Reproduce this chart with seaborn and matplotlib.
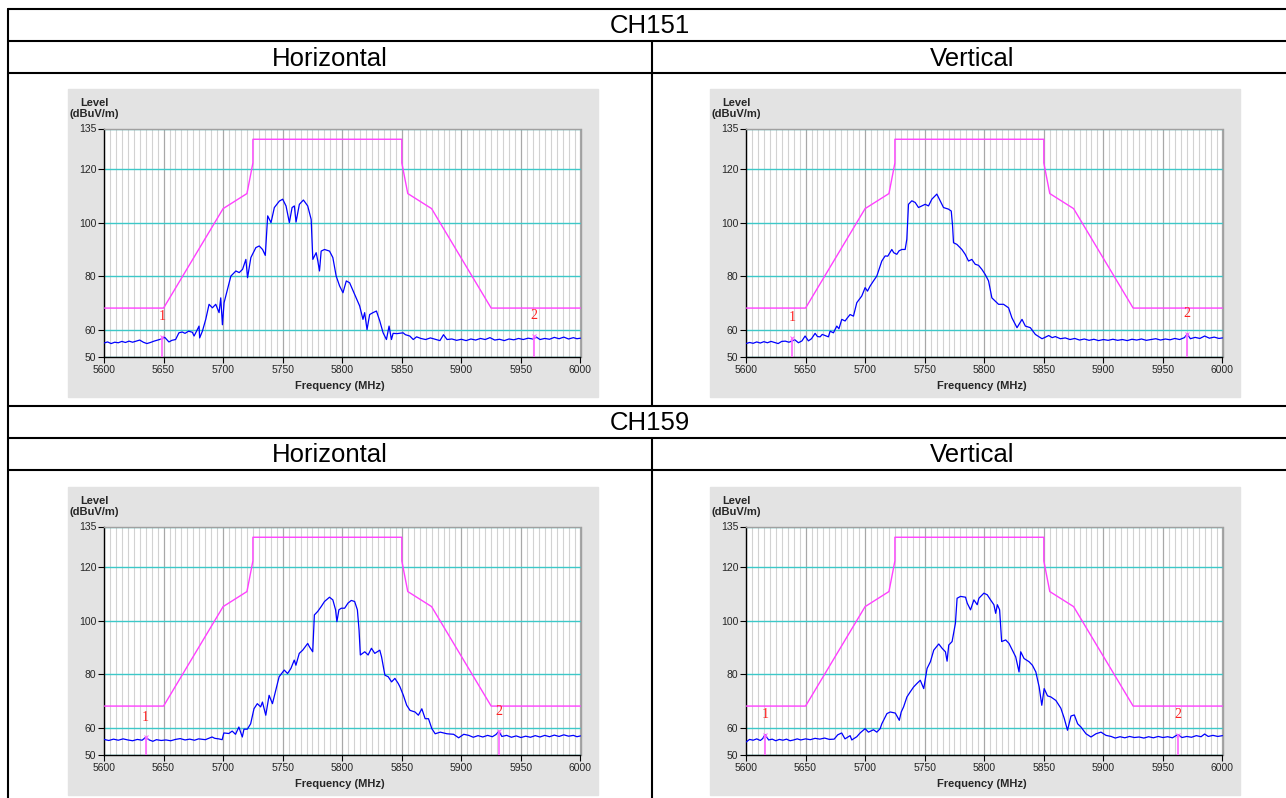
import matplotlib
matplotlib.use('Agg')
import matplotlib.pyplot as plt
from matplotlib.lines import Line2D
from matplotlib.patches import Rectangle
import numpy as np
import seaborn as sns

W, H = 1286, 798

# table headers
channels = ['CH151', 'CH159']
polarizations = ['Horizontal', 'Vertical']

# limit mask (dBuV/m)
mask_freq = [5600, 5650, 5700, 5720, 5725, 5725, 5850, 5850, 5855, 5875, 5925, 6000]
mask_level = [68.2, 68.2, 105.2, 110.8, 122.2, 131.0, 131.0, 122.2, 110.8, 105.2, 68.2, 68.2]

x_ticks = [5600, 5650, 5700, 5750, 5800, 5850, 5900, 5950, 6000]
y_ticks = [50, 60, 80, 100, 120, 135]

# measured traces (MHz, dBuV/m)
h151_trace = [
    (5600, 55.2), (5603, 55.6), (5606, 55.0), (5609, 55.5), (5612, 55.3), (5615, 55.8), (5618, 55.4), (5621, 55.9), (5624, 55.5), (5627, 55.9),
    (5630, 56.3), (5633, 55.5), (5636, 55.0), (5639, 55.4), (5642, 55.9), (5645, 56.3), (5648.9, 56.8), (5651, 57.3), (5654.5, 55.6), (5657, 56.2),
    (5660.1, 56.5), (5662.9, 59.0), (5665.7, 59.3), (5668, 58.8), (5671, 59.6), (5674.2, 59.2), (5675.6, 57.8), (5677, 59.0), (5679.8, 61.5), (5680.3, 57.1),
    (5682.6, 59.6), (5685.4, 64.0), (5688.2, 69.6), (5691, 68.3), (5693.8, 69.6), (5696.6, 66.5), (5698, 72.0), (5699.4, 62.0), (5700.8, 70.2), (5703.7, 75.2),
    (5706.5, 80.1), (5710.7, 82.0), (5713.5, 81.4), (5716.3, 82.6), (5719.1, 86.3), (5720.5, 79.5), (5723.3, 87.0), (5727.5, 90.7), (5730.3, 91.3), (5733.1, 90.0),
    (5735.4, 87.8), (5737.4, 102.5), (5740.2, 100.0), (5743, 105.6), (5747.2, 108.0), (5750, 108.7), (5752.8, 106.2), (5755.6, 100.0), (5757.9, 105.6), (5759.8, 106.2),
    (5761.2, 100.2), (5764, 106.8), (5767.4, 108.4), (5771, 106.2), (5773.9, 101.2), (5775.3, 86.3), (5778.1, 88.8), (5779.5, 85.7), (5780.9, 82.0), (5782.3, 89.4),
    (5785.1, 90.0), (5789.3, 89.4), (5792.1, 87.0), (5794.9, 80.1), (5797.8, 76.4), (5800.6, 73.9), (5803.4, 78.3), (5806.2, 77.6), (5810.4, 73.3), (5814.6, 69.0),
    (5817.4, 64.0), (5818.8, 66.5), (5820.8, 60.2), (5823, 65.8), (5825.8, 66.5), (5828.7, 67.1), (5831.5, 63.4), (5834.3, 59.0), (5837.1, 56.5), (5839.3, 61.5),
    (5841.3, 56.5), (5842.7, 58.8), (5846, 58.7), (5851.1, 59.0), (5853, 58.3), (5856.7, 57.8), (5859.6, 56.5), (5862.4, 57.5), (5866, 56.9), (5870, 56.5),
    (5874, 57.1), (5878, 56.6), (5882, 56.1), (5885, 58.3), (5888, 56.5), (5892, 56.7), (5896, 56.2), (5900, 56.6), (5904, 56.1), (5908, 56.7),
    (5912, 56.3), (5916, 56.9), (5920, 56.5), (5924, 57.2), (5928, 56.3), (5932, 56.6), (5936, 56.1), (5940, 56.7), (5944, 56.4), (5948, 56.9),
    (5952, 56.5), (5956, 57.0), (5960, 56.7), (5963, 57.4), (5966, 56.5), (5970, 56.9), (5974, 56.6), (5978, 57.3), (5982, 56.8), (5986, 57.4),
    (5990, 56.7), (5994, 57.2), (5997, 56.8), (6000, 57.0),
]

v151_trace = [
    (5600, 55.0), (5603, 55.4), (5606, 55.1), (5609, 55.6), (5612, 55.2), (5615, 55.7), (5618, 55.3), (5621, 55.8), (5624, 55.4), (5627, 55.0),
    (5630, 55.8), (5633, 55.9), (5636, 55.5), (5638.4, 55.9), (5641, 56.4), (5644, 55.3), (5647, 56.0), (5649.6, 57.8), (5652.4, 56.0), (5655, 56.8),
    (5658, 58.8), (5660, 57.6), (5662.2, 57.5), (5664, 58.4), (5666.4, 58.0), (5669.2, 57.5), (5670.6, 59.6), (5673.4, 59.0), (5676.2, 61.5), (5678, 60.5),
    (5680.4, 64.0), (5683.2, 63.4), (5685, 64.5), (5687.4, 65.8), (5690.2, 65.2), (5693, 70.2), (5697.2, 72.7), (5700, 75.8), (5702, 74.5), (5704.2, 76.4),
    (5707, 78.3), (5709.8, 80.1), (5714, 85.7), (5716.8, 87.6), (5719, 87.5), (5722.4, 90.0), (5724, 88.8), (5726.6, 88.2), (5728.5, 89.5), (5730.8, 90.0),
    (5733.6, 90.0), (5735, 93.8), (5736.4, 106.8), (5739.2, 108.1), (5742, 107.5), (5744.8, 105.6), (5747.6, 106.2), (5750.4, 106.8), (5753.2, 106.2), (5756, 108.7),
    (5760.2, 110.6), (5763, 108.1), (5765.8, 105.6), (5770, 105.0), (5772.3, 104.3), (5773.4, 98.8), (5774.2, 92.5), (5777, 91.9), (5781.2, 90.0), (5784, 88.2),
    (5786.8, 85.7), (5789.6, 86.3), (5792.4, 84.5), (5795.2, 84.1), (5798, 82.6), (5800.8, 80.7), (5803.6, 78.3), (5806.4, 72.0), (5809.2, 70.8), (5812, 69.6),
    (5816.2, 69.6), (5820.4, 68.3), (5823.2, 64.6), (5827.5, 60.9), (5831.7, 64.0), (5834.5, 61.5), (5838.7, 60.9), (5842.9, 58.4), (5848.5, 56.8), (5851, 57.3),
    (5854.1, 58.0), (5857, 57.2), (5859.7, 57.6), (5863.9, 56.8), (5868, 57.1), (5872, 56.5), (5876, 56.9), (5880, 56.3), (5884, 56.7), (5888, 56.2),
    (5892, 56.6), (5896, 56.1), (5900, 56.5), (5904, 56.2), (5908, 56.6), (5912, 56.2), (5916, 56.5), (5920, 56.1), (5924, 56.6), (5928, 56.3),
    (5932, 56.7), (5936, 56.2), (5940, 56.5), (5944, 56.8), (5948, 56.3), (5952, 56.7), (5956, 56.4), (5960, 56.9), (5964, 56.5), (5968, 57.2),
    (5970.5, 58.6), (5973, 56.8), (5977, 57.3), (5981, 56.9), (5985, 57.8), (5989, 57.0), (5993, 57.4), (5997, 56.9), (6000, 57.1),
]

h159_trace = [
    (5600, 55.8), (5604, 55.4), (5608, 55.9), (5612, 55.5), (5616, 56.0), (5620, 55.6), (5624, 55.3), (5628, 55.8), (5632, 55.5), (5635, 56.6),
    (5638, 55.6), (5641, 55.1), (5644, 55.7), (5648, 55.4), (5652, 55.6), (5656, 55.3), (5660, 55.8), (5664, 56.1), (5668, 55.6), (5672, 55.9),
    (5676, 55.5), (5679.4, 56.0), (5685.1, 55.7), (5690.7, 56.7), (5693, 56.2), (5696.3, 56.0), (5699.2, 55.7), (5700.6, 58.2), (5704.8, 58.0), (5707.6, 58.9),
    (5710.4, 57.7), (5713.2, 60.4), (5716.1, 56.7), (5717.5, 59.6), (5720.3, 59.6), (5723.1, 61.6), (5725.9, 67.2), (5728.7, 69.1), (5731.5, 67.9), (5733, 69.7),
    (5735.8, 64.8), (5738.6, 72.2), (5741.4, 69.1), (5744.2, 74.1), (5747, 79.1), (5751.3, 81.6), (5754.1, 80.3), (5756.9, 82.2), (5759.7, 85.3), (5761.1, 83.4),
    (5763.9, 87.8), (5766.8, 89.0), (5771, 91.5), (5772.4, 90.3), (5775.2, 88.4), (5776.6, 102.1), (5779.4, 103.4), (5782.3, 105.2), (5785.1, 107.1), (5789.3, 108.7),
    (5792.1, 107.7), (5794.4, 104.0), (5795.5, 99.6), (5797.2, 104.0), (5799.2, 104.6), (5802, 104.6), (5804.8, 106.5), (5807.6, 107.5), (5810.4, 107.1), (5812.7, 104.0),
    (5814.1, 96.5), (5815.2, 87.2), (5818.9, 88.4), (5821.7, 87.2), (5824.5, 89.7), (5827.3, 87.8), (5831.5, 89.0), (5833, 86.5), (5835.8, 79.7), (5838.6, 79.1),
    (5841.4, 77.2), (5844.2, 78.5), (5847, 76.6), (5848.5, 75.3), (5851.3, 72.2), (5854.1, 68.5), (5856.9, 66.6), (5861.1, 66.0), (5863.9, 64.8), (5866.8, 67.2),
    (5869.6, 63.5), (5872.4, 63.5), (5875.2, 59.8), (5878, 57.9), (5882.3, 58.5), (5887.9, 57.9), (5893.5, 57.7), (5897.7, 56.4), (5902, 57.7), (5906.2, 57.3),
    (5910, 56.6), (5914, 57.2), (5918, 56.7), (5922, 57.3), (5926, 56.8), (5929, 57.6), (5931.5, 58.8), (5934, 56.9), (5938, 57.3), (5942, 56.6),
    (5946, 57.1), (5950, 56.5), (5954, 57.0), (5958, 56.6), (5962, 57.2), (5966, 56.7), (5970, 57.3), (5974, 56.8), (5978, 57.4), (5982, 56.9),
    (5986, 57.5), (5990, 57.0), (5994, 57.3), (5997, 56.8), (6000, 57.1),
]

v159_trace = [
    (5600, 54.8), (5603, 55.8), (5606, 55.5), (5609, 56.0), (5612, 55.4), (5614, 56.1), (5616, 57.6), (5619, 55.6), (5622, 55.9), (5625, 55.3),
    (5628, 55.8), (5631, 55.5), (5634, 55.9), (5637, 55.3), (5640, 55.6), (5643, 56.0), (5646, 55.6), (5650, 56.0), (5654, 55.7), (5658, 56.2),
    (5662, 55.9), (5666, 56.3), (5670, 55.8), (5674, 55.9), (5677, 57.5), (5680.3, 58.2), (5683.1, 56.0), (5687.4, 57.2), (5688.8, 55.6), (5693, 56.8),
    (5695.8, 58.2), (5700, 59.8), (5702.8, 58.5), (5707, 59.4), (5709.8, 58.5), (5712.6, 59.8), (5714, 61.6), (5718.3, 65.4), (5721.1, 66.0), (5725.3, 65.6),
    (5728.7, 62.9), (5730.3, 66.0), (5732.3, 67.9), (5735.1, 71.6), (5737.9, 73.5), (5740.7, 75.3), (5743.5, 76.6), (5746.3, 77.8), (5749.2, 74.7), (5752, 82.2),
    (5754.8, 84.7), (5757.6, 89.0), (5761.8, 91.3), (5764.6, 89.7), (5767.4, 88.4), (5768.8, 84.9), (5770.2, 90.9), (5773, 92.2), (5775.8, 99.0), (5777.2, 108.3),
    (5780.1, 109.0), (5784.3, 108.7), (5785.7, 106.5), (5788.5, 104.0), (5791.3, 107.7), (5794.1, 105.9), (5795.5, 108.3), (5799.7, 110.2), (5802.5, 109.6), (5805.3, 107.7),
    (5808.1, 105.9), (5809.6, 102.7), (5811, 105.9), (5812.9, 104.0), (5814.6, 92.2), (5818, 92.8), (5820.8, 91.5), (5823.6, 89.0), (5826.4, 86.5), (5829.2, 80.9),
    (5830.6, 88.4), (5833.4, 85.9), (5837.6, 84.7), (5840.4, 83.4), (5843.3, 80.9), (5846.1, 75.3), (5848.3, 68.5), (5850.3, 74.7), (5853.1, 72.0), (5855.9, 71.6),
    (5860.1, 70.3), (5864.3, 67.4), (5867.1, 63.7), (5869.9, 59.2), (5872.8, 64.5), (5875.6, 64.9), (5878.4, 61.6), (5881.2, 60.4), (5885.4, 57.9), (5889.6, 56.7),
    (5893.8, 57.9), (5898, 58.5), (5902.2, 57.3), (5906.5, 56.9), (5910, 56.3), (5914, 56.8), (5918, 56.4), (5922, 56.9), (5926, 56.5), (5930, 56.7),
    (5934, 56.3), (5938, 56.8), (5942, 56.4), (5946, 56.9), (5950, 56.5), (5954, 56.8), (5958, 56.4), (5962.5, 57.6), (5966, 56.5), (5970, 56.9),
    (5974, 56.6), (5978, 57.2), (5982, 56.8), (5985, 57.8), (5988, 56.9), (5992, 57.3), (5996, 56.9), (6000, 57.2),
]

# marker points (MHz, dBuV/m)
h151_markers = [(5648.5, 57.5), (5961.0, 57.8)]
v151_markers = [(5639.0, 57.2), (5970.5, 58.6)]
h159_markers = [(5635.0, 56.6), (5931.5, 58.8)]
v159_markers = [(5616.0, 57.6), (5962.5, 57.6)]

sns.set_style('white')
plt.rcParams['font.family'] = ['Liberation Sans', 'DejaVu Sans']

fig = plt.figure(figsize=(W / 100, H / 100), dpi=100)


def fx(x):
    return x / W


def fy(y):
    return 1 - y / H


# table grid
line_kw = dict(color='black', lw=1.5, transform=fig.transFigure, zorder=5)
for y in [9, 41, 73, 406, 438, 470]:
    fig.add_artist(Line2D([fx(8), 1], [fy(y), fy(y)], **line_kw))
fig.add_artist(Line2D([fx(8), fx(8)], [fy(9), 0], **line_kw))
fig.add_artist(Line2D([fx(652), fx(652)], [fy(41), fy(406)], **line_kw))
fig.add_artist(Line2D([fx(652), fx(652)], [fy(438), 0], **line_kw))

head_kw = dict(ha='center', va='center', fontsize=18.5, color='black')
for row, ch in enumerate(channels):
    y0 = 9 + row * 397
    fig.text(fx(650), fy(y0 + 17), ch, **head_kw)
    fig.text(fx(330), fy(y0 + 49.5), polarizations[0], **head_kw)
    fig.text(fx(972), fy(y0 + 49.5), polarizations[1], **head_kw)

panels = [
    (68, 89, h151_trace, h151_markers),
    (710, 89, v151_trace, v151_markers),
    (68, 487, h159_trace, h159_markers),
    (710, 487, v159_trace, v159_markers),
]

for bx, by, trace, markers in panels:
    fig.add_artist(Rectangle((fx(bx), fy(by + 308)), 530 / W, 308 / H,
                             transform=fig.transFigure, color='#e3e3e3', zorder=-1))
    ax = fig.add_axes([fx(bx + 36), fy(by + 39.5 + 228.5), 476.5 / W, 228.5 / H])
    ax.set_facecolor('white')

    freq = [p[0] for p in trace]
    level = [p[1] for p in trace]

    sns.lineplot(x=mask_freq, y=mask_level, ax=ax, color='#ff40ff', lw=1.0,
                 estimator=None, sort=False, zorder=3)
    sns.lineplot(x=freq, y=level, ax=ax, color='#0000ff', lw=0.9,
                 estimator=None, sort=False, zorder=4)

    for i, (mf, ml) in enumerate(markers):
        ax.plot([mf, mf], [50, ml], color='#ff66ff', lw=1.2, zorder=5)
        ax.plot(mf, ml, marker='x', ms=3.5, mew=0.7, color='#ff66ff', zorder=5)
        ax.text(mf, ml + 7.5, str(i + 1), color='#ff2020', fontsize=10,
                family='Liberation Serif', ha='center', va='center', zorder=6)

    ax.set_xlim(5600, 6000)
    ax.set_ylim(50, 135)
    ax.set_xticks(x_ticks)
    ax.set_yticks(y_ticks)
    ax.set_xticks(np.arange(5600, 6001, 5), minor=True)
    ax.grid(which='minor', axis='x', color='#d2d2d2', lw=0.8)
    ax.grid(which='major', axis='x', color='#a8a8a8', lw=0.9)
    ax.grid(which='major', axis='y', color='#3cc8c8', lw=1.0)
    ax.set_axisbelow(True)
    ax.tick_params(which='major', direction='out', length=4, width=0.8,
                   color='black', labelsize=7.5, pad=1.5, left=True, bottom=True)
    ax.tick_params(which='minor', length=0)
    ax.set_xlabel('')
    ax.set_ylabel('')
    for side in ['left', 'bottom']:
        ax.spines[side].set_color('black')
        ax.spines[side].set_linewidth(1.0)
    for side in ['top', 'right']:
        ax.spines[side].set_color('#a0a0a0')
        ax.spines[side].set_linewidth(1.0)

    fig.text(fx(bx + 26), fy(by + 19.5), 'Level\n(dBuV/m)', ha='center', va='center',
             fontsize=8, fontweight='bold', linespacing=1.2)
    fig.text(fx(bx + 36 + 236), fy(by + 297), 'Frequency (MHz)', ha='center',
             va='center', fontsize=8, fontweight='bold')

fig.savefig('out.png', dpi=100, facecolor='white')
